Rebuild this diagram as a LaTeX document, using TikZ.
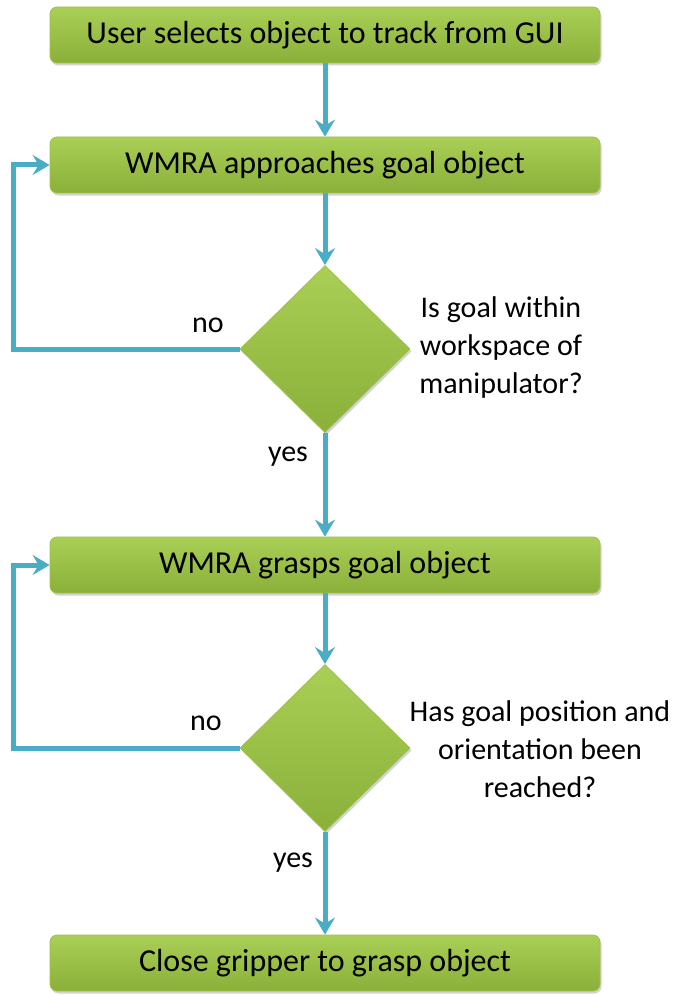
\documentclass[tikz,border=0pt]{standalone}
\usepackage{fontspec}
\setmainfont{Carlito}
\usetikzlibrary{arrows.meta,shapes.geometric,shadows}
\definecolor{gtop}{HTML}{AACF55}
\definecolor{gbot}{HTML}{8AB03A}
\definecolor{gedge}{HTML}{9CC24A}
\definecolor{arrc}{HTML}{4BACC6}
\tikzset{
  stepbox/.style={rectangle, rounded corners=7pt, minimum width=550pt, minimum height=56pt,
    top color=gtop, bottom color=gbot, draw=gedge, line width=0.8pt,
    drop shadow={shadow xshift=1.5pt, shadow yshift=-2.5pt, opacity=0.35},
    font=\fontsize{32}{34}\selectfont, text=black},
  decide/.style={diamond, minimum width=170pt, minimum height=167pt, inner sep=0pt,
    top color=gtop, bottom color=gbot, draw=gedge, line width=0.8pt,
    drop shadow={shadow xshift=1.5pt, shadow yshift=-2.5pt, opacity=0.35}},
  arr/.style={draw=arrc, line width=5pt, -{Stealth[length=17pt,width=20pt,inset=6pt]}},
  lbl/.style={font=\fontsize{30}{38}\selectfont, text=black, align=center},
}
\begin{document}
\begin{tikzpicture}[x=1pt,y=-1pt]
\useasboundingbox (0,0) rectangle (679,995);
\node[stepbox] (b1) at (325,35) {User selects object to track from GUI};
\node[stepbox] (b2) at (325,165) {WMRA approaches goal object};
\node[decide] (d1) at (325,349) {};
\node[stepbox] (b3) at (325,565) {WMRA grasps goal object};
\node[decide] (d2) at (325,748) {};
\node[stepbox] (b4) at (325,963) {Close gripper to grasp object};
\coordinate (lx1) at (13,349);
\coordinate (lx2) at (13,748);
\draw[arr] (b1) -- (b2);
\draw[arr] (b2) -- (d1);
\draw[arr] (d1) -- (b3);
\draw[arr] (b3) -- (d2);
\draw[arr] (d2) -- (b4);
\draw[arr] (d1.west) -- (lx1) |- (b2.west);
\draw[arr] (d2.west) -- (lx2) |- (b3.west);
\node[lbl] (q1) at (501,347) {Is goal within\\workspace of\\manipulator?};
\node[lbl] (q2) at (540,749) {Has goal position and\\orientation been\\reached?};
\node[lbl] (n1) at (208,325) {no};
\node[lbl] (y1) at (288,457) {yes};
\node[lbl] (n2) at (206,723) {no};
\node[lbl] (y2) at (293,863) {yes};
\end{tikzpicture}
\end{document}
